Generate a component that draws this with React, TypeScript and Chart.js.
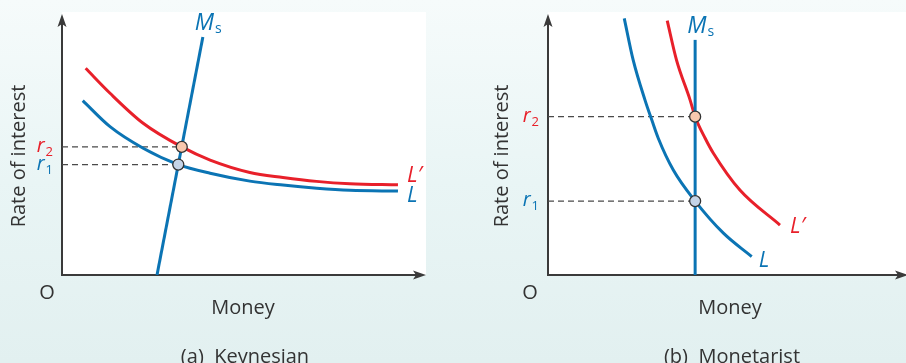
import React, { useEffect, useRef } from "react";
import { Chart, registerables } from "chart.js";

Chart.register(...registerables);

// ---------- text ----------
const yAxisLabel = "Rate of interest";
const xAxisLabel = "Money";
const originLabel = "O";
const panelTitles = ["(a)  Keynesian", "(b)  Monetarist"];

// ---------- (a) Keynesian (money 0–10, interest 0–10) ----------
const aMsX = [2.61, 3.87];
const aMsY = [0, 9.05];
const aLPrimeX = [0.65, 1.32, 2.23, 3.29, 4.07, 5.16, 6.07, 6.99, 7.91, 9.23];
const aLPrimeY = [7.86, 6.91, 5.77, 4.87, 4.37, 3.9, 3.71, 3.56, 3.47, 3.43];
const aLX = [0.57, 1.32, 2.23, 3.195, 4.07, 5.16, 6.07, 7.0, 7.91, 9.23];
const aLY = [6.63, 5.64, 4.82, 4.2, 3.87, 3.57, 3.42, 3.3, 3.22, 3.19];
const aRates = [4.2, 4.87]; // r1, r2
const aEquilibriumX = [3.195, 3.29];

// ---------- (b) Monetarist ----------
const bMsX = [4.11, 4.11];
const bMsY = [0, 8.94];
const bLPrimeX = [3.33, 3.59, 3.97, 4.11, 4.39, 4.62, 5.36, 6.48];
const bLPrimeY = [9.67, 8.17, 6.65, 6.02, 5.2, 4.63, 3.23, 1.9];
const bLX = [2.13, 2.38, 2.71, 2.9, 3.08, 3.5, 4.11, 4.9, 5.69];
const bLY = [9.76, 8.17, 6.65, 5.89, 5.2, 3.99, 2.81, 1.59, 0.7];
const bRates = [2.81, 6.02];
const bEquilibriumX = [4.11, 4.11];

// ---------- styles ----------
const BLUE = "#0b74b4";
const RED = "#e8202a";
const AXIS = "#3a3a3a";
const TEXT = "#333333";
const DASH = "#4a4a4a";
const FONT = "'Open Sans', 'Liberation Sans', sans-serif";
const W = 906;
const H = 363;

const pts = (xs: number[], ys: number[]) => xs.map((x, i) => ({ x, y: ys[i] }));

type Panel = {
  msX: number[];
  msY: number[];
  lpX: number[];
  lpY: number[];
  lX: number[];
  lY: number[];
  rates: number[];
  eqX: number[];
  area: { left: number; right: number };
  yTitleX: number;
  originX: number;
  xTitleX: number;
  title: string;
  lpOff: [number, number];
  lOff: [number, number];
};

const panels: Panel[] = [
  {
    msX: aMsX, msY: aMsY, lpX: aLPrimeX, lpY: aLPrimeY, lX: aLX, lY: aLY,
    rates: aRates, eqX: aEquilibriumX,
    area: { left: 62, right: 426 },
    yTitleX: 25, originX: 47, xTitleX: 243, title: panelTitles[0],
    lpOff: [9, -3], lOff: [9, 11],
  },
  {
    msX: bMsX, msY: bMsY, lpX: bLPrimeX, lpY: bLPrimeY, lX: bLX, lY: bLY,
    rates: bRates, eqX: bEquilibriumX,
    area: { left: 548, right: 906 },
    yTitleX: 508, originX: 530, xTitleX: 730, title: panelTitles[1],
    lpOff: [10, 8], lOff: [7, 10],
  },
];

function drawSub(
  ctx: CanvasRenderingContext2D,
  x: number,
  y: number,
  main: string,
  sub: string,
  color: string,
  mainSize: number,
  subSize: number,
  subDrop: number,
  align: "left" | "right"
) {
  ctx.save();
  ctx.fillStyle = color;
  ctx.textBaseline = "alphabetic";
  ctx.textAlign = "left";
  ctx.font = `italic ${mainSize}px ${FONT}`;
  const mw = ctx.measureText(main).width;
  ctx.font = `${subSize}px ${FONT}`;
  const sw = ctx.measureText(sub).width;
  const start = align === "left" ? x : x - (mw + sw + 1);
  ctx.font = `italic ${mainSize}px ${FONT}`;
  ctx.fillText(main, start, y);
  ctx.font = `${subSize}px ${FONT}`;
  ctx.fillText(sub, start + mw + 1, y + subDrop);
  ctx.restore();
}

function makeConfig(p: Panel): any {
  const dashed = (i: number) => ({
    data: [
      { x: 0, y: p.rates[i] },
      { x: p.eqX[i], y: p.rates[i] },
    ],
    showLine: true,
    borderColor: DASH,
    borderWidth: 1.3,
    borderDash: [6, 4],
    pointRadius: 0,
    order: 3,
  });
  const curve = (xs: number[], ys: number[], color: string) => ({
    data: pts(xs, ys),
    showLine: true,
    borderColor: color,
    borderWidth: 3,
    cubicInterpolationMode: "monotone",
    pointRadius: 0,
    order: 2,
  });
  const dot = (i: number, fill: string) => ({
    data: [{ x: p.eqX[i], y: p.rates[i] }],
    showLine: false,
    pointRadius: 5.5,
    pointBackgroundColor: fill,
    pointBorderColor: "#333",
    pointBorderWidth: 1.3,
    order: 0,
  });

  const framePlugin = {
    id: "frame",
    beforeDatasetsDraw(chart: any) {
      const { ctx, chartArea } = chart;
      const { left, top, right, bottom } = chartArea;
      ctx.save();
      ctx.fillStyle = "#ffffff";
      ctx.fillRect(left, top, right - left, bottom - top);
      ctx.strokeStyle = AXIS;
      ctx.fillStyle = AXIS;
      ctx.lineWidth = 2;
      const tipY = top + 2;
      const tipX = right + (p.area.right >= W ? 2 : 0);
      ctx.beginPath();
      ctx.moveTo(left, bottom + 1);
      ctx.lineTo(left, tipY + 10);
      ctx.moveTo(left - 1, bottom);
      ctx.lineTo(tipX - 10, bottom);
      ctx.stroke();
      ctx.beginPath();
      ctx.moveTo(left, tipY);
      ctx.lineTo(left - 4.5, tipY + 13);
      ctx.lineTo(left, tipY + 10);
      ctx.lineTo(left + 4.5, tipY + 13);
      ctx.closePath();
      ctx.fill();
      ctx.beginPath();
      ctx.moveTo(tipX, bottom);
      ctx.lineTo(tipX - 13, bottom - 4.5);
      ctx.lineTo(tipX - 10, bottom);
      ctx.lineTo(tipX - 13, bottom + 4.5);
      ctx.closePath();
      ctx.fill();
      ctx.restore();
    },
  };

  const labelPlugin = {
    id: "labels",
    afterDraw(chart: any) {
      const { ctx, chartArea, scales } = chart;
      const xs = scales.x;
      const ys = scales.y;
      const px = (v: number) => xs.getPixelForValue(v);
      const py = (v: number) => ys.getPixelForValue(v);
      ctx.save();
      // axis titles
      ctx.fillStyle = TEXT;
      ctx.font = `20px ${FONT}`;
      ctx.textAlign = "center";
      ctx.textBaseline = "alphabetic";
      ctx.save();
      ctx.translate(p.yTitleX, 156);
      ctx.rotate(-Math.PI / 2);
      ctx.fillText(yAxisLabel, 0, 0);
      ctx.restore();
      ctx.fillText(originLabel, p.originX, 299);
      ctx.fillText(xAxisLabel, p.xTitleX, 314);
      ctx.fillText(p.title, p.xTitleX + 2, 363);
      // rate labels
      const left = chartArea.left;
      drawSub(ctx, left - 9, py(p.rates[0]) + 5, "r", "1", BLUE, 20, 13, 4, "right");
      drawSub(ctx, left - 9, py(p.rates[1]) + 5, "r", "2", RED, 20, 13, 4, "right");
      // Ms label
      const msTopX = px(p.msX[p.msX.length - 1]);
      const msTopY = py(p.msY[p.msY.length - 1]);
      drawSub(ctx, msTopX - 8, msTopY - 7, "M", "s", BLUE, 23, 14, 3, "left");
      // curve labels
      const lpEndX = px(p.lpX[p.lpX.length - 1]);
      const lpEndY = py(p.lpY[p.lpY.length - 1]);
      ctx.font = `italic 22px ${FONT}`;
      ctx.textAlign = "left";
      ctx.fillStyle = RED;
      ctx.fillText("L\u2032", lpEndX + p.lpOff[0], lpEndY + p.lpOff[1]);
      const lEndX = px(p.lX[p.lX.length - 1]);
      const lEndY = py(p.lY[p.lY.length - 1]);
      ctx.fillStyle = BLUE;
      ctx.fillText("L", lEndX + p.lOff[0], lEndY + p.lOff[1]);
      ctx.restore();
    },
  };

  return {
    type: "scatter",
    data: {
      datasets: [
        dot(0, "#c5d4e7"),
        dot(1, "#f8c8ae"),
        curve(p.msX, p.msY, BLUE),
        curve(p.lpX, p.lpY, RED),
        curve(p.lX, p.lY, BLUE),
        dashed(0),
        dashed(1),
      ],
    },
    options: {
      animation: false,
      responsive: false,
      events: [],
      layout: {
        autoPadding: false,
        padding: {
          left: p.area.left,
          right: W - p.area.right,
          top: 12,
          bottom: H - 275,
        },
      },
      plugins: {
        legend: { display: false },
        tooltip: { enabled: false },
        title: { display: false },
      },
      scales: {
        x: { type: "linear", min: 0, max: 10, display: false },
        y: { type: "linear", min: 0, max: 10, display: false },
      },
    },
    plugins: [framePlugin, labelPlugin],
  };
}

export default function App() {
  const aRef = useRef<HTMLCanvasElement>(null);
  const bRef = useRef<HTMLCanvasElement>(null);

  useEffect(() => {
    document.body.style.margin = "0";
    const charts: Chart[] = [];
    if (aRef.current) charts.push(new Chart(aRef.current, makeConfig(panels[0])));
    if (bRef.current) charts.push(new Chart(bRef.current, makeConfig(panels[1])));
    return () => charts.forEach((c) => c.destroy());
  }, []);

  const canvasStyle: React.CSSProperties = {
    position: "absolute",
    left: 0,
    top: 0,
    width: W,
    height: H,
    display: "block",
  };

  return (
    <div
      style={{
        position: "fixed",
        left: 0,
        top: 0,
        width: W,
        height: H,
        overflow: "hidden",
        background: "linear-gradient(180deg, #f6fbfb 0%, #e9f5f5 50%, #e2f0f0 100%)",
      }}
    >
      <canvas ref={aRef} width={W} height={H} style={canvasStyle} />
      <canvas ref={bRef} width={W} height={H} style={canvasStyle} />
    </div>
  );
}
